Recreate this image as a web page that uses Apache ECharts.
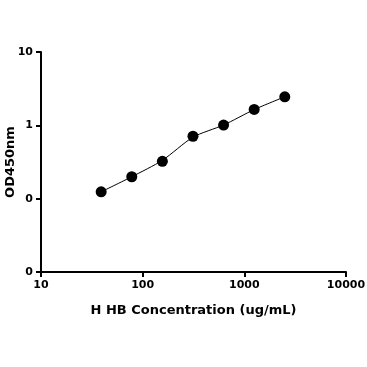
<!DOCTYPE html>
<html>
<head>
<meta charset="utf-8">
<script src="https://cdn.jsdelivr.net/npm/echarts@6/dist/echarts.min.js"></script>
<style>html,body{margin:0;padding:0;background:#fff}#c{width:367px;height:367px}</style>
</head>
<body>
<div id="c"></div>
<script>
const concentrations = [39.06, 78.13, 156.25, 312.5, 625, 1250, 2500];
const odValues = [0.124, 0.199, 0.323, 0.71, 1.01, 1.65, 2.45];
const fitValues = [0.124, 0.199, 0.333, 0.69, 1.01, 1.64, 2.45];
const xTicks = [10, 100, 1000, 10000];
const yTicks = [0.01, 0.1, 1, 10];
const xTitle = 'H HB Concentration (ug/mL)';
const yTitle = 'OD450nm';

const chart = echarts.init(document.getElementById('c'), null, {renderer: 'canvas'});
const font = 'DejaVu Sans';
chart.setOption({
  animation: false,
  backgroundColor: '#fff',
  grid: {left: 41, right: 21, top: 52, bottom: 95, containLabel: false, outerBoundsMode: 'none'},
  xAxis: {
    type: 'log', logBase: 10, min: xTicks[0], max: xTicks[xTicks.length - 1],
    name: xTitle, nameLocation: 'middle', nameGap: 32, nameMoveOverlap: false,
    nameTextStyle: {fontFamily: font, fontWeight: 'bold', fontSize: 13, color: '#000'},
    axisLine: {lineStyle: {color: '#000', width: 2}},
    axisTick: {show: true, length: 5, lineStyle: {color: '#000', width: 2}},
    minorTick: {show: false},
    splitLine: {show: false},
    axisLabel: {fontFamily: font, fontWeight: 'bold', fontSize: 11, color: '#000', margin: 8,
      formatter: v => String(Math.round(v))}
  },
  yAxis: {
    type: 'log', logBase: 10, min: yTicks[0], max: yTicks[yTicks.length - 1],
    name: yTitle, nameLocation: 'middle', nameGap: 24, nameRotate: 90, nameMoveOverlap: false,
    nameTextStyle: {fontFamily: font, fontWeight: 'bold', fontSize: 13, color: '#000'},
    axisLine: {lineStyle: {color: '#000', width: 2}},
    axisTick: {show: true, length: 5, lineStyle: {color: '#000', width: 2}},
    splitLine: {show: false},
    axisLabel: {fontFamily: font, fontWeight: 'bold', fontSize: 11, color: '#000', margin: 8,
      formatter: v => v >= 1 ? String(Math.round(v)) : '0'}
  },
  series: [
    {
      type: 'line', data: concentrations.map((x, i) => [x, fitValues[i]]),
      smooth: 0.25, showSymbol: false, symbol: 'none',
      lineStyle: {color: '#000', width: 1}, z: 2
    },
    {
      type: 'scatter', data: concentrations.map((x, i) => [x, odValues[i]]),
      symbol: 'circle', symbolSize: 11,
      itemStyle: {color: '#000', opacity: 1}, z: 3
    }
  ]
});
</script>
</body>
</html>
